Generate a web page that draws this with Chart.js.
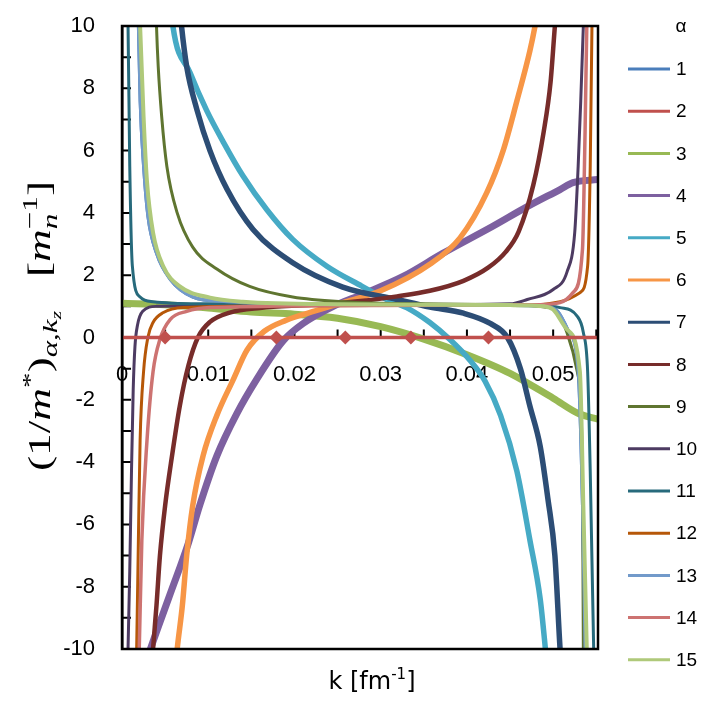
<!DOCTYPE html>
<html>
<head>
<meta charset="utf-8">
<script src="https://cdn.jsdelivr.net/npm/chart.js@4"></script>
<style>
  body { margin: 0; background: #fff; }
  #wrap { width: 711px; height: 711px; }
</style>
</head>
<body>
<div id="wrap"><canvas id="chart" width="711" height="711"></canvas></div>
<script>
// alpha labels and curve colours (excel-ish palette)
const ALPHA = ['1','2','3','4','5','6','7','8','9','10','11','12','13','14','15'];
const COLORS = ['#4A7EBB','#C0504D','#98B954','#7D60A0','#46AAC5','#F79646','#2C4D75','#772C2A',
                '#5F7530','#4D3B62','#276A7C','#B65708','#729ACA','#CD7371','#AFC97A'];
const WIDTHS = [3, 3.5, 7, 7, 5.5, 5.5, 5.5, 4.5, 3, 3, 3, 3, 3, 3.5, 4];

// [k, (1/m*)] pairs
const s1 = [[0.0018,11],[0.0019,10],[0.0021,7.6],[0.0025,5.5],[0.003,3.9],[0.004,2.7],[0.0056,1.86],[0.0082,1.3],[0.0122,1.15],[0.02,1.08],[0.03,1.05],[0.045,1.03],[0.049,1.0],[0.0505,0.85],[0.0518,0.2],[0.0529,-1.1],[0.0534,-5.4],[0.0537,-10],[0.0538,-11]];
const s2 = [[0,0],[0.005,0],[0.0179,0],[0.0259,0],[0.0335,0],[0.0425,0],[0.0552,0]];
const s3 = [[0,1.1],[0.005,1.05],[0.01,0.95],[0.015,0.82],[0.02,0.75],[0.025,0.62],[0.03,0.35],[0.035,-0.05],[0.04,-0.55],[0.045,-1.15],[0.05,-1.95],[0.053,-2.45],[0.0552,-2.62]];
const s4 = [[0.0026,-10.6],[0.0033,-10],[0.0055,-8.3],[0.0077,-6.6],[0.009,-5.4],[0.011,-3.8],[0.0133,-2.45],[0.0156,-1.35],[0.0187,-0.1],[0.021,0.45],[0.0245,1.0],[0.028,1.4],[0.0326,1.96],[0.0372,2.7],[0.043,3.57],[0.047,4.2],[0.0508,4.75],[0.0523,4.97],[0.0552,5.07]];
const s5 = [[0.0057,10.6],[0.0059,10],[0.0079,8.5],[0.0098,7.3],[0.0118,6.25],[0.014,5.2],[0.0168,4.1],[0.0198,3.15],[0.0238,2.28],[0.0278,1.65],[0.0307,1.22],[0.033,0.96],[0.0357,0.48],[0.038,-0.06],[0.0404,-0.75],[0.0421,-1.4],[0.0439,-2.5],[0.0458,-4.3],[0.0473,-6.5],[0.0485,-8.4],[0.0491,-10],[0.0493,-10.6]];
const s6 = [[0.0062,-10.6],[0.0064,-10],[0.007,-8.6],[0.0075,-7.0],[0.0082,-5.4],[0.0094,-3.8],[0.011,-2.5],[0.0129,-1.35],[0.0145,-0.4],[0.0165,0.2],[0.019,0.55],[0.022,0.82],[0.026,1.15],[0.03,1.5],[0.0357,2.35],[0.0392,3.2],[0.0423,4.65],[0.0442,6.0],[0.0458,7.6],[0.0473,9.2],[0.0479,10],[0.0484,10.8]];
const s7 = [[0.0067,10.6],[0.0069,10],[0.0075,8.7],[0.0087,7.3],[0.0102,6.0],[0.0122,4.75],[0.0152,3.47],[0.0198,2.4],[0.0256,1.62],[0.0319,1.22],[0.0357,0.98],[0.0396,0.78],[0.0427,0.45],[0.0447,0.0],[0.0462,-1.0],[0.0473,-2.2],[0.0485,-3.5],[0.0494,-5.2],[0.0502,-7.0],[0.0508,-10],[0.051,-10.8]];
const s8 = [[0.0034,-10.8],[0.0036,-10],[0.004,-8.6],[0.0044,-7.0],[0.005,-5.4],[0.0058,-3.8],[0.0067,-2.2],[0.0077,-0.9],[0.0088,0.0],[0.0102,0.5],[0.0125,0.8],[0.016,0.95],[0.022,1.05],[0.028,1.18],[0.0319,1.32],[0.0357,1.5],[0.0396,1.82],[0.0425,2.25],[0.0445,2.75],[0.046,3.4],[0.0477,4.9],[0.0489,6.6],[0.0497,8.2],[0.0502,10],[0.0505,11]];
const s9 = [[0.0039,11],[0.004,10],[0.0042,8.7],[0.0046,7.1],[0.0052,5.5],[0.0064,4.0],[0.0082,2.9],[0.011,2.2],[0.0148,1.64],[0.0198,1.3],[0.0256,1.15],[0.035,1.08],[0.045,1.05],[0.049,0.98],[0.0505,0.8],[0.0516,0.16],[0.0528,-1.1],[0.0534,-4.3],[0.0535,-10],[0.0536,-11]];
const s10 = [[0.0006,-11],[0.0007,-10],[0.0009,-7.5],[0.0011,-4.3],[0.0013,-1.67],[0.0015,-0.3],[0.0018,0.4],[0.0024,0.84],[0.004,1.0],[0.01,1.02],[0.03,1.04],[0.045,1.08],[0.047,1.22],[0.05,1.54],[0.0516,2.1],[0.0525,3.37],[0.0529,5.5],[0.0532,7.6],[0.0535,10],[0.0536,11]];
const s11 = [[0.0006,11],[0.0007,10],[0.0009,5.5],[0.0012,2.3],[0.0021,1.3],[0.0036,1.15],[0.01,1.08],[0.03,1.05],[0.048,1.03],[0.0508,0.96],[0.0528,0.68],[0.0535,0.16],[0.054,-1.1],[0.0543,-4.3],[0.0547,-10],[0.0548,-11]];
const s12 = [[0.0016,-11],[0.0017,-10],[0.0019,-6.5],[0.0021,-3.3],[0.0025,-1.1],[0.003,0.0],[0.0036,0.48],[0.0048,0.8],[0.0071,0.96],[0.02,1.02],[0.048,1.05],[0.0508,1.15],[0.0531,1.44],[0.054,2.3],[0.0543,5.5],[0.0545,10],[0.0546,11]];
const s13 = [[0.0018,11],[0.0019,10],[0.0021,7.6],[0.0025,5.5],[0.003,3.9],[0.004,2.7],[0.0056,1.86],[0.0082,1.3],[0.0122,1.15],[0.02,1.08],[0.03,1.05],[0.045,1.03],[0.049,1.0],[0.0505,0.85],[0.0518,0.2],[0.0529,-1.1],[0.0534,-5.4],[0.0537,-10],[0.0538,-11]];
const s14 = [[0.0019,-11],[0.002,-10],[0.0023,-6.5],[0.0029,-3.3],[0.0036,-1.1],[0.0044,-0.06],[0.0056,0.58],[0.0075,0.84],[0.0102,0.96],[0.03,1.03],[0.048,1.05],[0.0508,1.12],[0.0523,1.44],[0.0534,2.83],[0.0537,6.6],[0.0539,10],[0.054,11]];
const s15 = [[0.002,11],[0.0021,10],[0.0025,7.1],[0.0029,5.0],[0.0036,3.37],[0.0048,2.28],[0.0067,1.64],[0.0102,1.28],[0.014,1.15],[0.025,1.07],[0.045,1.04],[0.049,1.0],[0.05,0.9],[0.0516,0.26],[0.0531,-1.1],[0.0535,-5.4],[0.0539,-10],[0.054,-11]];

const SERIES = [s1, s2, s3, s4, s5, s6, s7, s8, s9, s10, s11, s12, s13, s14, s15];

const K_MIN = 0, K_MAX = 0.0552, K_STEP = 0.005;
const Y_MIN = -10, Y_MAX = 10, Y_STEP = 1;

const SANS = '"Liberation Sans", Arial, sans-serif';
const SERIF = '"Liberation Serif", "Times New Roman", serif';

// draws a list of text runs (for sub/superscripts), returns width
function runs(ctx, list, x0, y0, measureOnly) {
    let x = x0;
    let held = 0;
    list.forEach(r => {
        ctx.font = r.f;
        const w = ctx.measureText(r.t).width;
        if (!measureOnly) ctx.fillText(r.t, x, y0 + (r.dy || 0));
        if (r.keep) { held = w; return; }
        x += Math.max(w, held);
        held = 0;
    });
    return x - x0;
}

const decor = {
    id: 'decor',
    beforeDatasetsDraw(chart) {
        const {ctx, chartArea: a, scales: {x, y}} = chart;
        ctx.save();
        ctx.strokeStyle = '#000';
        ctx.lineWidth = 2;
        ctx.beginPath();
        // inward ticks on the value axis
        y.ticks.forEach(t => {
            const py = y.getPixelForValue(t.value);
            ctx.moveTo(a.left, py);
            ctx.lineTo(a.left + 9, py);
        });
        // upward ticks on the k axis (it sits at y = 0)
        const y0 = y.getPixelForValue(0);
        x.ticks.forEach(t => {
            if (t.value <= 0) return;
            const px = x.getPixelForValue(t.value);
            ctx.moveTo(px, y0);
            ctx.lineTo(px, y0 - 8);
        });
        ctx.stroke();
        ctx.restore();
    },
    afterDatasetsDraw(chart) {
        const {ctx, chartArea: a} = chart;
        ctx.save();
        ctx.strokeStyle = '#000';
        ctx.lineWidth = 2.5;
        ctx.strokeRect(a.left, a.top, a.right - a.left, a.bottom - a.top);
        ctx.restore();
    },
    afterDraw(chart) {
        const ctx = chart.ctx;
        ctx.save();
        ctx.fillStyle = '#000';
        ctx.textBaseline = 'alphabetic';
        ctx.textAlign = 'left';

        // x title  k [fm^-1]
        const xt = [
            {t: 'k [fm', f: '24px "DejaVu Sans"'},
            {t: '-1', f: '15px "DejaVu Sans"', dy: -10},
            {t: ']', f: '24px "DejaVu Sans"'}
        ];
        const xw = runs(ctx, xt, 0, 0, true);
        runs(ctx, xt, 372 - xw / 2, 689);

        // y title (1/m*)_{alpha,kz} [m_n^-1], rotated
        const base = '32px ' + SERIF;
        const ital = 'italic 32px ' + SERIF;
        const sm = 'italic 22px ' + SERIF;
        const yt = [
            {t: '(1/', f: base},
            {t: 'm', f: ital},
            {t: '*', f: '22px ' + SERIF, dy: -13},
            {t: ')', f: base},
            {t: 'α,k', f: sm, dy: 7},
            {t: 'z', f: 'italic 15px ' + SERIF, dy: 11},
            {t: '   [', f: base},
            {t: 'm', f: ital},
            {t: 'n', f: sm, dy: 7, keep: true},
            {t: '−1', f: '22px ' + SERIF, dy: -13},
            {t: ']', f: base}
        ];
        const yw = runs(ctx, yt, 0, 0, true);
        ctx.translate(50, 326);
        ctx.rotate(-Math.PI / 2);
        ctx.scale(290 / yw, 1);
        runs(ctx, yt, -yw / 2, 0);
        ctx.setTransform(1, 0, 0, 1, 0, 0);

        // legend
        ctx.font = '19px ' + SANS;
        ctx.textBaseline = 'middle';
        ctx.textAlign = 'center';
        ctx.fillText('α', 681, 27);
        ctx.textAlign = 'left';
        chart.data.datasets.forEach((d, i) => {
            const ly = 69 + i * 42.2;
            ctx.strokeStyle = d.borderColor;
            ctx.lineWidth = 3;
            ctx.beginPath();
            ctx.moveTo(628, ly);
            ctx.lineTo(670, ly);
            ctx.stroke();
            ctx.fillText(d.label, 676, ly + 1);
        });
        ctx.restore();
    }
};

const datasets = SERIES.map((pts, i) => ({
    label: ALPHA[i],
    data: pts.map(p => ({x: p[0], y: p[1]})),
    borderColor: COLORS[i],
    backgroundColor: COLORS[i],
    borderWidth: WIDTHS[i],
    showLine: true,
    pointRadius: 0,
    cubicInterpolationMode: 'monotone',
    clip: 0,
    order: -i
}));
// red zero line carries diamond markers
datasets[1].pointStyle = 'rectRot';
datasets[1].pointRadius = c => (c.dataIndex === 0 || c.dataIndex === s2.length - 1) ? 0 : 4.5;
datasets[1].order = -100;

new Chart(document.getElementById('chart'), {
    type: 'scatter',
    data: {datasets: datasets},
    options: {
        responsive: false,
        animation: false,
        devicePixelRatio: 1,
        layout: {padding: {top: 26, bottom: 62, right: 113, left: 0}},
        plugins: {legend: {display: false}, tooltip: {enabled: false}},
        scales: {
            x: {
                type: 'linear',
                position: {y: 0},
                min: K_MIN, max: K_MAX,
                grid: {display: false, drawTicks: false},
                border: {display: true, color: '#000', width: 2},
                ticks: {
                    stepSize: K_STEP,
                    includeBounds: false,
                    autoSkip: false,
                    maxRotation: 0,
                    padding: 24,
                    color: '#000',
                    font: {family: SANS, size: 22},
                    callback: v => {
                        const c = Math.round(v * 1000);
                        if (c % 10 !== 0) return '';
                        return c === 0 ? '0' : (c / 1000).toFixed(2);
                    }
                }
            },
            y: {
                type: 'linear',
                position: 'left',
                min: Y_MIN, max: Y_MAX,
                afterFit: s => { s.width = 122; s.paddingTop = 0; s.paddingBottom = 0; },
                grid: {display: false, drawTicks: false},
                border: {display: true, color: '#000', width: 2.5},
                ticks: {
                    stepSize: Y_STEP,
                    autoSkip: false,
                    padding: 27,
                    color: '#000',
                    font: {family: SANS, size: 22},
                    callback: v => (Math.round(v) % 2 === 0 ? String(Math.round(v)) : '')
                }
            }
        }
    },
    plugins: [decor]
});
</script>
</body>
</html>
